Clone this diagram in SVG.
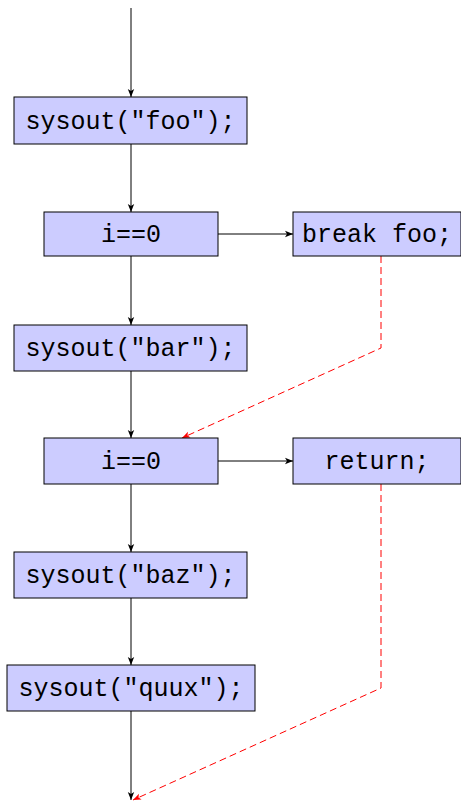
<svg xmlns="http://www.w3.org/2000/svg" width="461" height="804" viewBox="0 0 461 804">
  <style>
    .box { fill: #ccccff; stroke: #000; stroke-width: 1; }
    .lbl { font-family: "Liberation Mono", "DejaVu Sans Mono", monospace; font-size: 25px; fill: #000; text-anchor: middle; }
    .flow { fill: none; stroke: #000; stroke-width: 1; marker-end: url(#ah); }
    .jump { fill: none; stroke: #ff0000; stroke-width: 1; stroke-dasharray: 7 4; marker-end: url(#ahr); }
  </style>
  <defs>
    <marker id="ah" viewBox="0 0 10 10" refX="10" refY="5" markerWidth="8" markerHeight="8" markerUnits="userSpaceOnUse" orient="auto">
      <path d="M0,1 L10,5 L0,9 L2.5,5 Z" fill="#000"/>
    </marker>
    <marker id="ahr" viewBox="0 0 10 10" refX="10" refY="5" markerWidth="8" markerHeight="8" markerUnits="userSpaceOnUse" orient="auto">
      <path d="M0,1 L10,5 L0,9 L2.5,5 Z" fill="#ff0000"/>
    </marker>
  </defs>

  <g id="connectors">
    <path class="flow" d="M131,8 V97"/>
    <path class="flow" d="M131,144 V212"/>
    <path class="flow" d="M218,234 H293"/>
    <path class="flow" d="M131,256 V325"/>
    <path class="flow" d="M131,371 V438"/>
    <path class="flow" d="M218,461 H293"/>
    <path class="flow" d="M131,484 V552"/>
    <path class="flow" d="M131,598 V665"/>
    <path class="flow" d="M131,711 V800"/>
    <path class="jump" d="M381,256 V348 L182,438"/>
    <path class="jump" d="M381,484 V688 L133,800"/>
  </g>

  <g id="n1">
    <rect class="box" x="14" y="97" width="233" height="47"/>
    <text class="lbl" x="130.5" y="129">sysout("foo");</text>
  </g>
  <g id="n2">
    <rect class="box" x="44" y="212" width="174" height="44"/>
    <text class="lbl" x="131" y="242">i==0</text>
  </g>
  <g id="n3">
    <rect class="box" x="293" y="212" width="168" height="44"/>
    <text class="lbl" x="377" y="242">break foo;</text>
  </g>
  <g id="n4">
    <rect class="box" x="14" y="325" width="233" height="46"/>
    <text class="lbl" x="130.5" y="356">sysout("bar");</text>
  </g>
  <g id="n5">
    <rect class="box" x="44" y="438" width="174" height="46"/>
    <text class="lbl" x="131" y="469">i==0</text>
  </g>
  <g id="n6">
    <rect class="box" x="293" y="438" width="168" height="46"/>
    <text class="lbl" x="377" y="469">return;</text>
  </g>
  <g id="n7">
    <rect class="box" x="14" y="552" width="233" height="46"/>
    <text class="lbl" x="130.5" y="583">sysout("baz");</text>
  </g>
  <g id="n8">
    <rect class="box" x="7" y="665" width="248" height="46"/>
    <text class="lbl" x="131" y="696">sysout("quux");</text>
  </g>
</svg>
